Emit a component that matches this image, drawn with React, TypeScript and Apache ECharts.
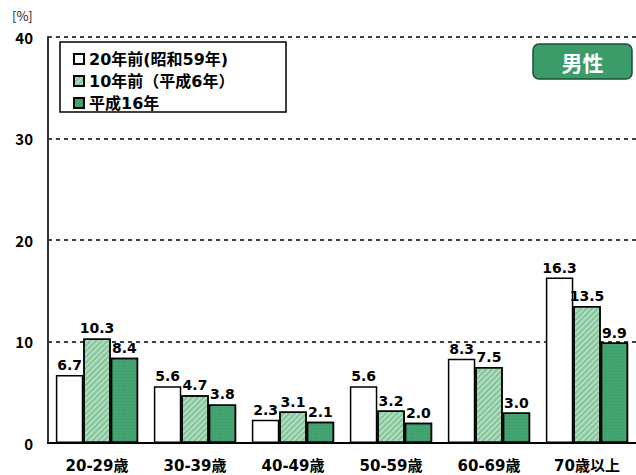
import React, { useEffect, useRef } from "react";
import * as echarts from "echarts";

const categories = ["20-29歳", "30-39歳", "40-49歳", "50-59歳", "60-69歳", "70歳以上"];
const seriesNames = ["20年前(昭和59年)", "10年前（平成6年）", "平成16年"];
const values20yAgo = [6.7, 5.6, 2.3, 5.6, 8.3, 16.3];
const values10yAgo = [10.3, 4.7, 3.1, 3.2, 7.5, 13.5];
const valuesH16 = [8.4, 3.8, 2.1, 2.0, 3.0, 9.9];
const yTicks = { min: 0, max: 40, interval: 10 };
const unitLabel = "[%]";
const badgeText = "男性";

const FONT = '"Noto Sans CJK JP", "Noto Sans", sans-serif';
const WIDE = '"DejaVu Sans", "Noto Sans CJK JP", sans-serif';

export default function App() {
  const ref = useRef<HTMLDivElement>(null);
  useEffect(() => {
    if (!ref.current) return;
    const chart = echarts.init(ref.current, null, { renderer: "svg" });
    const label = {
      show: true,
      position: "top",
      distance: 3,
      fontFamily: WIDE,
      fontWeight: "bold",
      fontSize: 14,
      color: "#000",
      formatter: (p: any) => Number(p.value).toFixed(1),
    };
    const data = [values20yAgo, values10yAgo, valuesH16];
    const styles = [
      { color: "#ffffff", borderColor: "#000", borderWidth: 1.5 },
      {
        color: "#b3ddc1",
        borderColor: "#000",
        borderWidth: 1.5,
        decal: {
          symbol: "rect",
          symbolSize: 1,
          dashArrayX: [1, 0],
          dashArrayY: [1.5, 1.5],
          rotation: -Math.PI / 4,
          color: "rgba(90,175,120,0.55)",
        },
      },
      {
        color: "#40a06d",
        borderColor: "#000",
        borderWidth: 1.5,
        decal: {
          symbol: "circle",
          symbolSize: 0.7,
          dashArrayX: [2, 1],
          dashArrayY: [2, 1],
          color: "rgba(120,200,150,0.35)",
        },
      },
    ];
    chart.setOption({
      animation: false,
      backgroundColor: "#fff",
      grid: { left: 48, top: 37, width: 593, height: 406 },
      legend: {
        orient: "vertical",
        left: 68,
        top: 46,
        icon: "rect",
        itemWidth: 10,
        itemHeight: 10,
        itemGap: 6,
        z: 5,
        data: seriesNames,
        textStyle: {
          fontFamily: WIDE,
          fontWeight: "bold",
          fontSize: 16,
          lineHeight: 16,
          color: "#000",
        },
      },
      xAxis: {
        type: "category",
        data: categories,
        axisLine: { lineStyle: { color: "#000", width: 2 } },
        axisTick: { show: false },
        axisLabel: {
          margin: 15,
          fontFamily: WIDE,
          fontWeight: "bold",
          fontSize: 15,
          color: "#000",
        },
      },
      yAxis: {
        type: "value",
        min: yTicks.min,
        max: yTicks.max,
        interval: yTicks.interval,
        axisLine: { show: true, lineStyle: { color: "#333", width: 2 } },
        axisTick: { show: false },
        axisLabel: {
          margin: 15,
          fontFamily: FONT,
          fontWeight: "bold",
          fontSize: 15,
          color: "#000",
        },
        splitLine: {
          show: true,
          lineStyle: { color: "#000", type: [4, 4], width: 1.5 },
        },
      },
      graphic: [
        {
          type: "text",
          left: 12,
          top: 9,
          style: {
            text: unitLabel,
            fontFamily: FONT,
            fontSize: 13,
            fill: "#222",
          },
        },
        {
          type: "rect",
          z: 3,
          shape: { x: 60, y: 42, width: 226, height: 70 },
          style: { fill: "#fff", stroke: "#000", lineWidth: 1.5 },
        },
        {
          type: "group",
          z: 3,
          children: [
            {
              type: "rect",
              shape: { x: 533, y: 44, width: 99, height: 35, r: 6 },
              style: { fill: "#3b9b69", stroke: "#1d4f35", lineWidth: 1.5 },
            },
            {
              type: "text",
              x: 582.5,
              y: 62,
              style: {
                text: badgeText,
                fontFamily: FONT,
                fontWeight: "bold",
                fontSize: 21,
                fill: "#fff",
                align: "center",
                verticalAlign: "middle",
              },
            },
          ],
        },
      ],
      series: seriesNames.map((name, i) => ({
        name,
        type: "bar",
        data: data[i],
        barGap: "0%",
        barCategoryGap: "16%",
        itemStyle: styles[i],
        label,
      })),
    });
    return () => chart.dispose();
  }, []);
  return (
    <div
      ref={ref}
      style={{ position: "fixed", left: 0, top: 0, width: 636, height: 475 }}
    />
  );
}
